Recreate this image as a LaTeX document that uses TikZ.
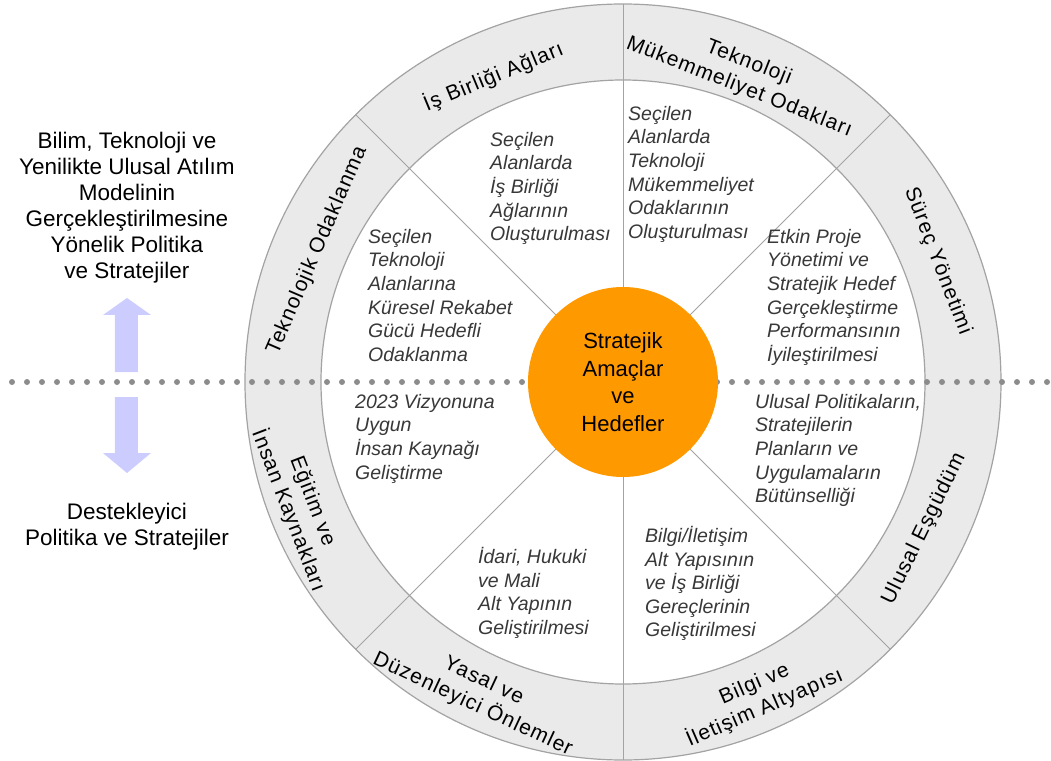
\documentclass[tikz,border=0pt]{standalone}
\usepackage{fontspec}
\setmainfont{Liberation Sans}
\definecolor{ringgray}{HTML}{EAEAEA}
\definecolor{linegray}{HTML}{A3A3A3}
\definecolor{dotgray}{HTML}{8C8C8C}
\definecolor{goalorange}{HTML}{FF9900}
\definecolor{arrowblue}{HTML}{CCCCFF}
\definecolor{textgray}{HTML}{383838}
\tikzset{
  ringlabel/.style={align=center,inner sep=0pt,
    font=\fontsize{21}{26}\selectfont\addfontfeature{LetterSpace=5}},
  sectortext/.style={align=left,anchor=north west,inner sep=0pt,text=textgray,
    font=\fontsize{19.5}{23.6}\selectfont\itshape},
  sidetext/.style={align=center,inner sep=0pt,font=\fontsize{22.5}{26}\selectfont},
  goaltext/.style={align=center,inner sep=0pt,font=\fontsize{22}{27.5}\selectfont},
  spoke/.style={linegray,line width=1pt},
  dotline/.style={dotgray,line width=6pt,line cap=round,dash pattern=on 0pt off 15pt},
  bigarrow/.style={fill=arrowblue,draw=none}
}
\begin{document}
\begin{tikzpicture}[x=1pt,y=1pt]
    \useasboundingbox (-623,-378) rectangle (428,382);
    \fill[ringgray,draw=linegray,line width=1.2pt] (0,0) circle[radius=378pt];
    \fill[white,draw=linegray,line width=1.2pt] (0,0) circle[radius=302pt];
    \draw[dotline] (-611,0) -- (428,0);
    \foreach \a in {45,90,135,225,270,315}
      \draw[spoke] (\a:94pt) -- (\a:378pt);
    \node[circle,fill=goalorange,minimum size=190pt,inner sep=0pt] (goal) at (0,0) {};
    \node[goaltext] (goaltxt) at (goal.center) {Stratejik\\Amaçlar\\ve\\Hedefler};

    \fill[bigarrow] (-508,10) -- (-508,67) -- (-520,67) -- (-496,84)
      -- (-472,67) -- (-485,67) -- (-485,10) -- cycle;
    \fill[bigarrow] (-508,-15) -- (-508,-71) -- (-520,-71) -- (-496,-91)
      -- (-472,-71) -- (-485,-71) -- (-485,-15) -- cycle;
    \node[sidetext] (upper) at (-496,174)
      {Bilim, Teknoloji ve\\Yenilikte Ulusal Atılım\\Modelinin\\Gerçekleştirilmesine\\Yönelik Politika\\ve Stratejiler};
    \node[sidetext] (lower) at (-496,-145) {Destekleyici\\Politika ve Stratejiler};

    \node[ringlabel,rotate=22.5] (network) at (113:332pt) {İş Birliği Ağları};
    \node[ringlabel,rotate=-21.5] (excellence) at (68.5:330pt) {Teknoloji\\Mükemmeliyet Odakları};
    \node[ringlabel,rotate=66.7] (focus) at (156.7:333pt) {Teknolojik Odaklanma};
    \node[ringlabel,rotate=-69] (process) at (21:337pt) {Süreç Yönetimi};
    \node[ringlabel,rotate=64] (coord) at (-26:335pt) {Ulusal Eşgüdüm};
    \node[ringlabel,rotate=23.5] (infra) at (293.5:343pt) {Bilgi ve\\İletişim Altyapısı};
    \node[ringlabel,rotate=-25] (legal) at (245:343pt) {Yasal ve\\Düzenleyici Önlemler};
    \node[ringlabel,rotate=-69] (education) at (201:346pt) {Eğitim ve\\İnsan Kaynakları};

    \node[sectortext] (t-network) at (-133,250)
      {Seçilen\\Alanlarda\\İş Birliği\\Ağlarının\\Oluşturulması};
    \node[sectortext] (t-excellence) at (5,276)
      {Seçilen\\Alanlarda\\Teknoloji\\Mükemmeliyet\\Odaklarının\\Oluşturulması};
    \node[sectortext] (t-process) at (144,153)
      {Etkin Proje\\Yönetimi ve\\Stratejik Hedef\\Gerçekleştirme\\Performansının\\İyileştirilmesi};
    \node[sectortext] (t-focus) at (-255,153)
      {Seçilen\\Teknoloji\\Alanlarına\\Küresel Rekabet\\Gücü Hedefli\\Odaklanma};
    \node[sectortext] (t-education) at (-268,-12)
      {2023 Vizyonuna\\Uygun\\İnsan Kaynağı\\Geliştirme};
    \node[sectortext] (t-legal) at (-145,-165)
      {İdari, Hukuki\\ve Mali\\Alt Yapının\\Geliştirilmesi};
    \node[sectortext] (t-infra) at (22,-144)
      {Bilgi/İletişim\\Alt Yapısının\\ve İş Birliği\\Gereçlerinin\\Geliştirilmesi};
    \node[sectortext] (t-coord) at (132,-12)
      {Ulusal Politikaların,\\Stratejilerin\\Planların ve\\Uygulamaların\\Bütünselliği};
\end{tikzpicture}
\end{document}
